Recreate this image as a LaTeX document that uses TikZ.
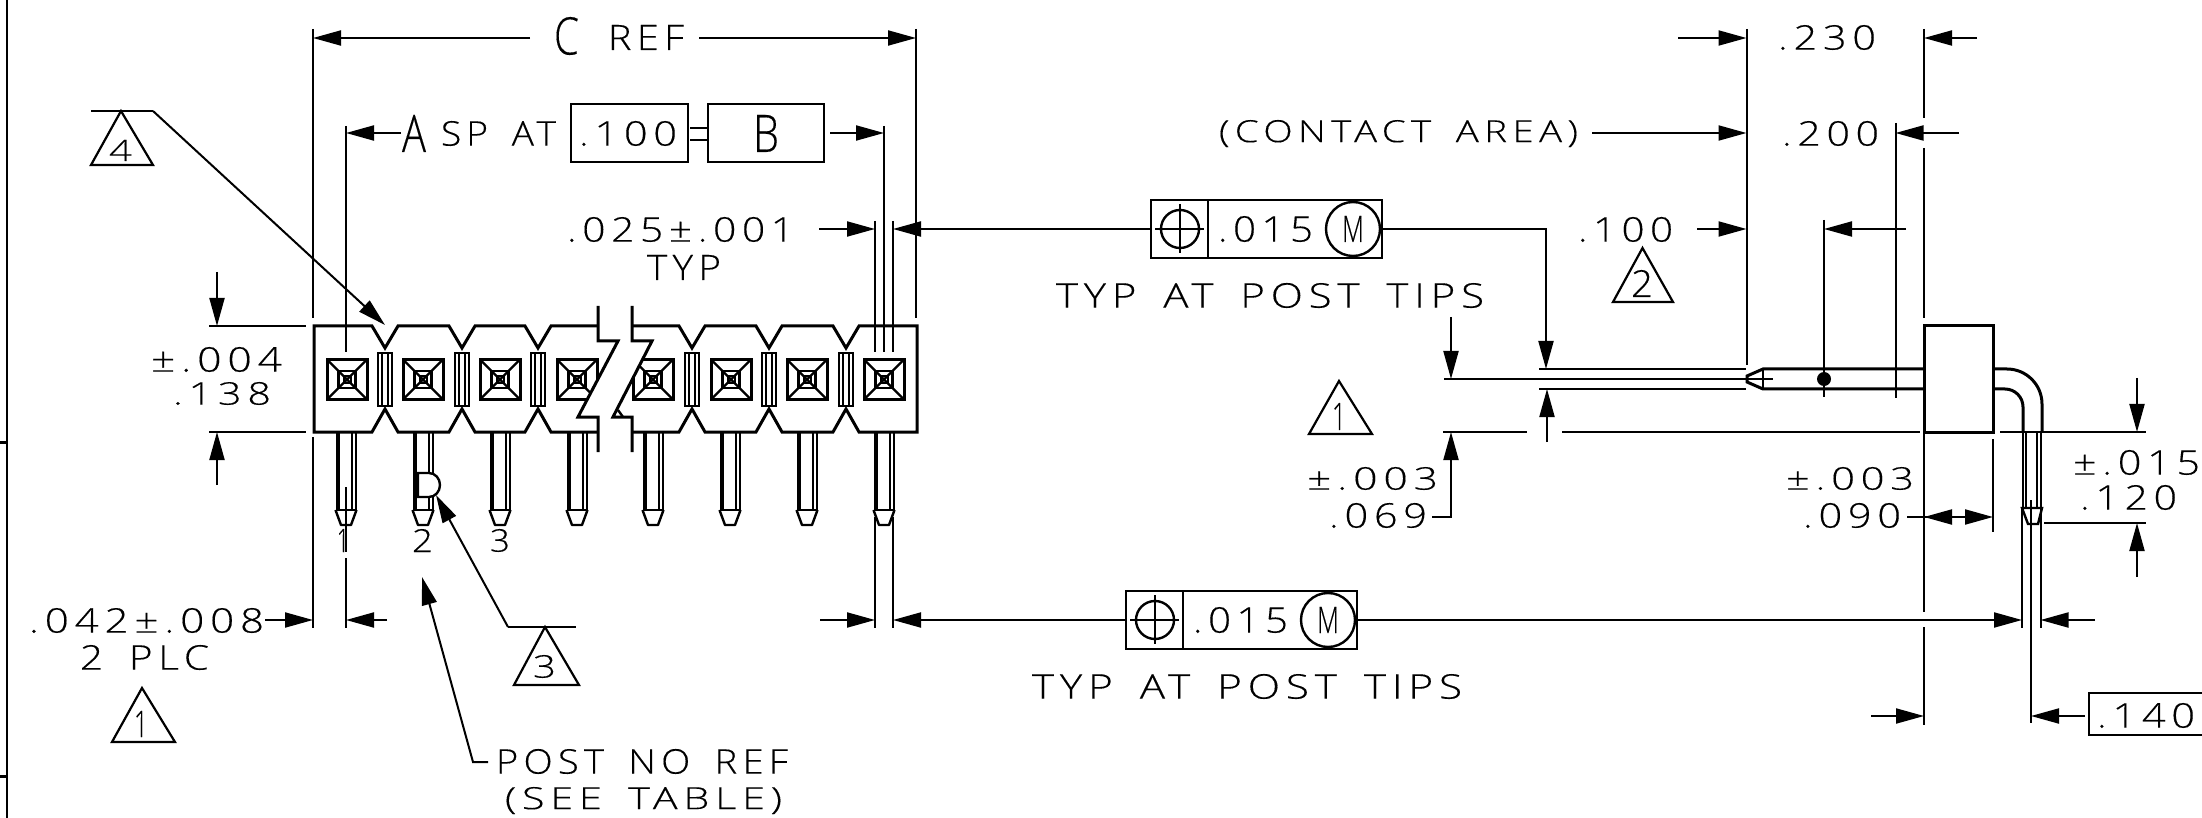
\documentclass[tikz,border=0pt]{standalone}
\usepackage{fontspec}
\usepackage{graphicx}
\setmainfont{Open Sans Light}[LetterSpace=14,WordSpace=1.6,FakeBold=0.25]
\usetikzlibrary{arrows.meta}
\tikzset{
  thinl/.style={line width=1pt,draw=black},
  midl/.style={line width=1.2pt,draw=black},
  heavy/.style={line width=1.5pt,draw=black},
  arrhead/.style={-{Triangle[length=14pt,width=7.5pt]}},
  dim/.style={thinl,arrhead},
  boxl/.style={line width=1.2pt,draw=black},
  lbl/.style={inner sep=0pt,outer sep=0pt,anchor=center,text=black},
  tri/.style={line width=1.1pt,draw=black,line join=miter},
}
% name, x1, x2, y1, y2, text: text fitted in the given pixel box
\newcommand\lab[6]{%
  \pgfmathsetlengthmacro\labw{(#3-#2)*0.5pt}%
  \pgfmathsetlengthmacro\labh{(#5-#4)*0.5pt}%
  \node[lbl] (#1) at ({(#2+#3)/2},{(#4+#5)/2}) {\resizebox*{\labw}{\labh}{#6}};}
\begin{document}
\begin{tikzpicture}[x=0.5pt,y=-0.5pt]
\useasboundingbox (0,0) rectangle (2202,818);
\fill[white] (0,0) rectangle (2202,818);
% frame
\draw[line width=1.4pt] (7,0) -- (7,818);
\draw[heavy] (0,442) -- (7,442);
\draw[heavy] (0,776) -- (7,776);

% pins front view
\foreach \c in {346,423,500,577,653,730,807,884}{
  \draw[line width=2.2pt] (\c-8,432) -- (\c-8,510);
  \draw[thinl] (\c+5.5,432) -- (\c+5.5,510);
  \draw[thinl] (\c+10,432) -- (\c+10,510);
  \draw[midl] (\c-10.5,510) -- (\c+10.5,510);
  \draw[midl,line join=round] (\c-10.5,510) -- (\c-5,525) -- (\c+5,525) -- (\c+10.5,510);
}
% body
\foreach \c in {385,462,538,692,769,846}{
  \draw[midl] (\c-7,353) rectangle (\c+7,406);
  \draw[thinl] (\c-3,353) -- (\c-3,406);
  \draw[thinl] (\c+3,353) -- (\c+3,406);
}
\foreach \c in {347,423,500,577,653,731,807,884}{
  \begin{scope}[shift={(\c,379.5)}]
  \draw[heavy] (-20,-20) rectangle (20,20);
  \draw[midl] (-8.5,-8.5) rectangle (8.5,8.5);
  \draw[thinl] (-3.5,-3.5) rectangle (3.5,3.5);
  \draw[midl] (-20,-20) -- (20,20);
  \draw[midl] (-20,20) -- (20,-20);
  \end{scope}
}
% break gap
\fill[white] (598,326) -- (598,341) -- (618,341) -- (578,417) -- (598,417) -- (598,432) -- (632,432) -- (632,417) -- (613,417) -- (652,341) -- (632,341) -- (632,326) -- cycle;
\draw[heavy,line join=miter] (598,326) -- (551,326) -- (538,348) -- (525,326) -- (475,326) -- (462,348) -- (449,326) -- (398,326) -- (385,348) -- (372,326) -- (314,326) -- (314,432) -- (372,432) -- (385,409) -- (398,432) -- (449,432) -- (462,409) -- (475,432) -- (525,432) -- (538,409) -- (551,432) -- (598,432);
\draw[heavy,line join=miter] (632,326) -- (679,326) -- (692,348) -- (705,326) -- (756,326) -- (769,348) -- (782,326) -- (833,326) -- (846,348) -- (859,326) -- (917,326) -- (917,432) -- (859,432) -- (846,409) -- (833,432) -- (782,432) -- (769,409) -- (756,432) -- (705,432) -- (692,409) -- (679,432) -- (632,432);
\draw[heavy,line join=miter] (598,306) -- (598,341) -- (618,341) -- (578,417) -- (598,417) -- (598,452);
\draw[heavy,line join=miter] (632,306) -- (632,341) -- (652,341) -- (613,417) -- (632,417) -- (632,452);
\draw[midl] (618,410) -- (623,417);
% D flag on pin 2
\draw[midl,fill=white] (418,473) -- (429,473) arc[start angle=-90,end angle=90,x radius=11,y radius=12] -- (418,497) -- cycle;

% C REF
\draw[thinl] (313,29) -- (313,318);
\draw[thinl] (916,29) -- (916,318);
\draw[dim] (530,38) -- (313,38);
\draw[dim] (699,38) -- (916,38);
\lab{cref}{554}{579}{17}{55}{C}
\lab{refword}{608}{684}{25}{50}{REF}

% A SP AT
\draw[thinl] (346,126) -- (346,352);
\draw[thinl] (884,126) -- (884,352);
\draw[dim] (401,133) -- (346,133);
\draw[dim] (830,133) -- (884,133);
\lab{aword}{402}{426}{115}{152}{A}
\lab{spat}{441}{556}{121}{146}{SP AT}
\draw[boxl] (571,104) rectangle (688,162);
\lab{hundred}{579}{677}{121}{146}{.100}
\draw[thinl] (690,128) -- (708,128);
\draw[thinl] (690,140) -- (708,140);
\draw[boxl] (708,104) rectangle (824,162);
\lab{bword}{753}{779}{115}{152}{B}

% triangle 4
\draw[midl] (91,111) -- (153,111);
\draw[tri] (121,111) -- (153,165) -- (91,165) -- cycle;
\lab{tfour}{109}{132}{140}{161}{4}
\draw[dim] (153,111) -- (385,325);

% .025
\foreach \xx in {875,884,893}{\draw[thinl] (\xx,221) -- (\xx,352);}
\draw[dim] (819,229) -- (875,229);
\draw[dim] (1151,229) -- (893,229);
\lab{width}{567}{794}{217}{242}{.025±.001}
\lab{typ}{647}{721}{255}{280}{TYP}

% .138
\draw[midl] (209,326) -- (306,326);
\draw[midl] (209,432) -- (306,432);
\draw[dim] (217,272) -- (217,326);
\draw[dim] (217,485) -- (217,432);
\lab{tolA}{151}{282}{347}{372}{±.004}
\lab{valA}{173}{271}{382}{405}{.138}

% pin numbers and lower left dims
\draw[thinl] (346,487) -- (346,552);
\draw[thinl] (346,558) -- (346,628);
\draw[thinl] (313,437) -- (313,628);
\lab{pone}{337}{349}{529}{552}{1}
\lab{ptwo}{412}{433}{529}{552}{2}
\lab{pthree}{490}{510}{529}{552}{3}
\draw[dim] (265,620) -- (313,620);
\draw[dim] (387,620) -- (346,620);
\lab{offs}{29}{264}{608}{633}{.042±.008}
\lab{plc}{80}{209}{645}{670}{2 PLC}
\draw[tri] (142,688) -- (175,742) -- (112,742) -- cycle;
\lab{tone}{134}{148}{711}{737}{1}

% triangle 3
\draw[midl] (508,627) -- (576,627);
\draw[tri] (545,627) -- (579,685) -- (514,685) -- cycle;
\lab{tthree}{533}{556}{655}{678}{3}
\draw[dim] (508,627) -- (436,495);

% post no ref
\draw[dim] (488,762) -- (473,762) -- (422,577);
\lab{post}{496}{788}{749}{774}{POST NO REF}
\lab{see}{505}{782}{787}{814}{(SEE TABLE)}

% lower .015 frame
\draw[thinl] (875,517) -- (875,628);
\draw[thinl] (893,517) -- (893,628);
\draw[dim] (820,620) -- (875,620);
\draw[dim] (1126,620) -- (893,620);
\draw[boxl] (1126,591) rectangle (1357,649);
\draw[boxl] (1183,591) -- (1183,649);
\draw[midl] (1155,620) circle[radius=19];
\draw[thinl] (1130,620) -- (1179,620);
\draw[thinl] (1155,595) -- (1155,644);
\lab{lowtol}{1193}{1288}{607}{633}{.015}
\draw[midl] (1328,620) circle[radius=27];
\lab{lowm}{1317}{1339}{607}{633}{M}
\lab{lowtyp}{1032}{1462}{674}{699}{TYP AT POST TIPS}
\draw[dim] (1357,620) -- (2022,620);
\draw[dim] (2095,620) -- (2040.5,620);

% upper .015 frame
\draw[boxl] (1151,200) rectangle (1382,258);
\draw[boxl] (1208,200) -- (1208,258);
\draw[midl] (1180,229) circle[radius=19];
\draw[thinl] (1155,229) -- (1204,229);
\draw[thinl] (1180,204) -- (1180,253);
\lab{uptol}{1218}{1313}{216}{242}{.015}
\draw[midl] (1353,229) circle[radius=27];
\lab{upm}{1342}{1364}{216}{242}{M}
\lab{uptyp}{1056}{1484}{283}{308}{TYP AT POST TIPS}
\draw[dim] (1382,229) -- (1546,229) -- (1546,369);

% top right dims
\draw[thinl] (1746.5,29) -- (1746.5,365);
\draw[thinl] (1924,29) -- (1924,118);
\draw[thinl] (1924,148) -- (1924,318);
\draw[thinl] (1895.5,123) -- (1895.5,398);
\draw[thinl] (1824,220) -- (1824,397);
\draw[dim] (1678,38) -- (1746.5,38);
\draw[dim] (1977,38) -- (1924,38);
\lab{d230}{1778}{1876}{25}{50}{.230}
\draw[dim] (1592,133) -- (1746.5,133);
\draw[dim] (1959,133) -- (1895.5,133);
\lab{contact}{1219}{1578}{120}{147}{(CONTACT AREA)}
\lab{d200}{1782}{1879}{121}{146}{.200}
\draw[dim] (1697,229) -- (1746.5,229);
\draw[dim] (1906,229) -- (1824,229);
\lab{d100}{1578}{1673}{217}{242}{.100}
\draw[tri] (1642.5,248) -- (1673,302) -- (1613,302) -- cycle;
\lab{ttwo}{1631}{1653}{270}{297}{2}

% side view
\draw[heavy] (1924,326) rectangle (1993,432);
\draw[heavy,line join=miter] (1924,369) -- (1763,369) -- (1747,376) -- (1747,382) -- (1763,389) -- (1924,389);
\draw[midl] (1763,369) -- (1763,389);
\fill (1824,379) circle[radius=7];
\draw[midl] (1539,369) -- (1746,369);
\draw[midl] (1539,389) -- (1746,389);
\draw[midl] (1444,379) -- (1773,379);
\draw[dim] (1451,317) -- (1451,379);
\draw[dim] (1547,442) -- (1547,389);
% bent lead
\draw[heavy] (1993,369) -- (2007,369) arc[start angle=-90,end angle=0,radius=35] -- (2042,432);
\draw[heavy] (1993,389) -- (2005,389) arc[start angle=-90,end angle=0,radius=18] -- (2023,432);
\draw[thinl] (2023,432) -- (2023,508);
\draw[thinl] (2026,432) -- (2026,508);
\draw[thinl] (2037,432) -- (2037,508);
\draw[thinl] (2041,432) -- (2041,508);
\draw[midl] (2022,508) -- (2042,508) -- (2038,524) -- (2028,524) -- cycle;
\draw[thinl] (2022,508) -- (2022,628);
\draw[thinl] (2040.5,508) -- (2040.5,628);
\draw[thinl] (2031,500) -- (2031,723);

% .069 and baseline
\draw[midl] (1443,432) -- (1527,432);
\draw[midl] (1562,432) -- (1920,432);
\draw[midl] (2000,432) -- (2146,432);
\draw[dim] (1432,517) -- (1451,517) -- (1451,432);
\lab{tolB}{1307}{1438}{467}{490}{±.003}
\lab{valB}{1329}{1427}{503}{528}{.069}
\draw[tri] (1339,381) -- (1372,434) -- (1309,434) -- cycle;
\lab{tonetwo}{1332}{1346}{403}{430}{1}

% .090
\draw[thinl] (1924,432) -- (1924,612);
\draw[thinl] (1924,627) -- (1924,725);
\draw[thinl] (1993,439) -- (1993,532);
\draw[thinl] (1907,517) -- (1958,517);
\draw[dim] (1958,517) -- (1924,517);
\draw[dim] (1958,517) -- (1993,517);
\lab{tolC}{1786}{1914}{467}{490}{±.003}
\lab{valC}{1803}{1901}{503}{528}{.090}

% .120
\draw[dim] (2137,378) -- (2137,432);
\draw[midl] (2044,523) -- (2146,523);
\draw[dim] (2137,577) -- (2137,523);
\lab{tolD}{2073}{2200}{450}{475}{±.015}
\lab{valD}{2080}{2177}{485}{510}{.120}

% .140
\draw[dim] (1871,716) -- (1924,716);
\draw[dim] (2085,716) -- (2031,716);
\draw[boxl] (2202,693) -- (2089,693) -- (2089,735) -- (2202,735);
\lab{d140}{2097}{2195}{703}{728}{.140}
\end{tikzpicture}
\end{document}
